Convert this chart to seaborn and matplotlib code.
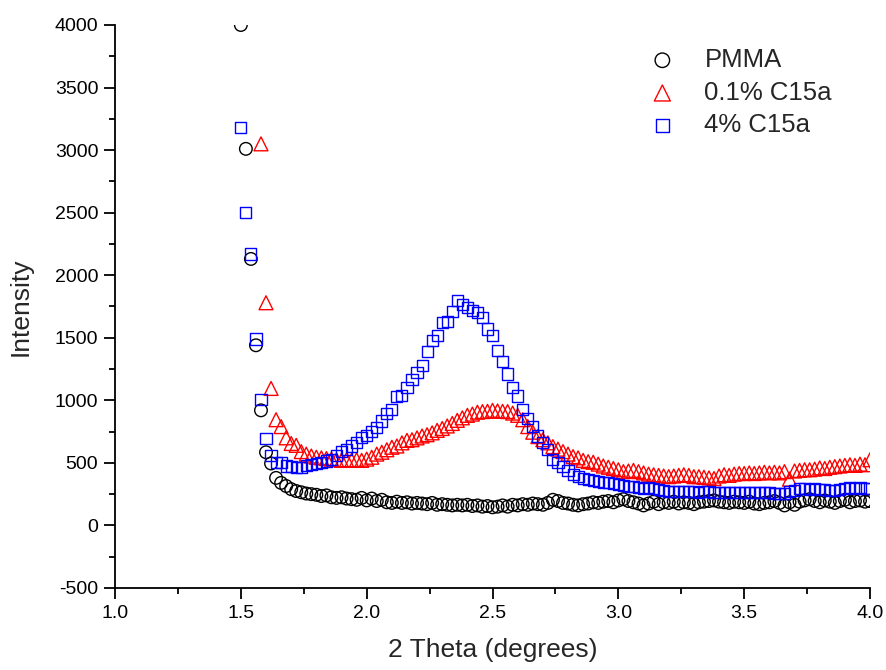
import numpy as np
import pandas as pd
import matplotlib
matplotlib.use("Agg")
import matplotlib.pyplot as plt
import seaborn as sns
from matplotlib.ticker import MultipleLocator

# 2 theta grid (degrees), 0.02 step from 1.50 to 4.00
two_theta = np.round(np.linspace(1.50, 4.00, 126), 2)

pmma = [
    4000, 3010, 2130, 1440, 920, 585, 495, 380, 340, 315,
    290, 275, 265, 255, 250, 245, 235, 240, 225, 220,
    225, 215, 210, 205, 220, 200, 215, 195, 205, 185,
    180, 190, 180, 185, 175, 180, 175, 170, 180, 165,
    170, 165, 160, 165, 160, 165, 155, 160, 150, 155,
    145, 150, 160, 150, 165, 160, 170, 165, 175, 170,
    165, 180, 205, 195, 180, 175, 165, 160, 170, 175,
    185, 180, 190, 195, 185, 200, 210, 195, 185, 175,
    160, 175, 190, 170, 185, 180, 190, 175, 185, 180,
    170, 185, 190, 195, 200, 190, 185, 180, 190, 185,
    180, 190, 175, 170, 180, 185, 195, 180, 160, 185,
    165, 190, 200, 210, 195, 185, 200, 190, 180, 195,
    205, 185, 195, 200, 190, 195,
]

c15a_01 = [
    np.nan, np.nan, np.nan, np.nan, 3050, 1780, 1095, 845, 790, 700,
    655, 640, 590, 570, 555, 545, 540, 535, 530, 525,
    520, 525, 520, 525, 520, 530, 545, 570, 585, 605,
    625, 635, 660, 680, 685, 700, 715, 725, 740, 760,
    775, 795, 815, 840, 860, 880, 890, 905, 910, 912,
    920, 915, 912, 910, 898, 880, 845, 790, 745, 710,
    685, 660, 630, 610, 590, 570, 550, 540, 520, 510,
    505, 490, 475, 465, 455, 445, 430, 435, 440, 430,
    420, 410, 405, 400, 395, 390, 395, 400, 405, 400,
    390, 390, 385, 380, 375, 395, 405, 400, 410, 415,
    415, 420, 415, 420, 425, 420, 425, 420, 430, 370,
    435, 440, 445, 445, 450, 460, 455, 465, 470, 475,
    480, 485, 480, 490, 485, 525,
]

c15a_4 = [
    3180, 2500, 2170, 1490, 1010, 695, 560, 505, 500, 475,
    470, 465, 460, 480, 485, 495, 505, 515, 525, 560,
    590, 605, 635, 660, 700, 720, 750, 780, 835, 895,
    930, 1030, 1040, 1100, 1165, 1220, 1280, 1390, 1480, 1515,
    1620, 1630, 1710, 1800, 1765, 1740, 1720, 1700, 1665, 1570,
    1515, 1395, 1310, 1210, 1100, 1035, 930, 855, 790, 715,
    660, 605, 530, 500, 470, 440, 405, 390, 375, 365,
    360, 350, 345, 340, 332, 325, 320, 310, 310, 300,
    298, 300, 298, 290, 280, 272, 270, 268, 270, 268,
    270, 265, 270, 268, 262, 265, 262, 262, 260, 262,
    265, 262, 262, 265, 262, 262, 258, 256, 256, 270,
    280, 295, 298, 290, 292, 290, 285, 282, 280, 285,
    298, 300, 295, 300, 298, 298,
]

series = [
    ("PMMA", pmma, "o", "black", 82),
    ("0.1% C15a", c15a_01, "^", "red", 100),
    ("4% C15a", c15a_4, "s", "blue", 64),
]

sns.set_style("ticks")
plt.rcParams["font.family"] = ["Liberation Sans", "DejaVu Sans"]
plt.rcParams["axes.unicode_minus"] = False

fig = plt.figure(figsize=(8.86, 6.70), dpi=100)
ax = fig.add_axes([0.1298, 0.1224, 0.8522, 0.8403])

for name, vals, marker, color, size in series:
    df = pd.DataFrame({"x": two_theta, "y": vals}).dropna()
    sns.scatterplot(data=df, x="x", y="y", ax=ax, marker=marker, s=size,
                    facecolor="none", edgecolor=color, linewidth=1.0,
                    label=name, clip_on=True)

ax.set_xlim(1.0, 4.0)
ax.set_ylim(-500, 4000)
ax.xaxis.set_major_locator(MultipleLocator(0.5))
ax.xaxis.set_minor_locator(MultipleLocator(0.25))
ax.yaxis.set_major_locator(MultipleLocator(500))
ax.yaxis.set_minor_locator(MultipleLocator(250))
ax.xaxis.set_major_formatter(matplotlib.ticker.FormatStrFormatter("%.1f"))

for side in ["top", "right"]:
    ax.spines[side].set_visible(False)
for side in ["left", "bottom"]:
    ax.spines[side].set_linewidth(1.3)
    ax.spines[side].set_color("black")
ax.tick_params(which="major", direction="out", length=8, width=1.3,
               labelsize=14, colors="black", pad=4)
ax.tick_params(which="minor", direction="out", length=4.3, width=1.3,
               colors="black")

ax.set_xlabel("2 Theta (degrees)", fontsize=19, labelpad=12)
ax.set_ylabel("Intensity", fontsize=19, labelpad=16)

leg = ax.legend(loc="upper left", bbox_to_anchor=(649.5 / 886, 1 - 48 / 670),
                bbox_transform=fig.transFigure, frameon=False, fontsize=18.5,
                handlelength=1.0, handletextpad=1.14, labelspacing=0.34,
                borderpad=0, borderaxespad=0, markerscale=1.15)

fig.savefig("out.png", dpi=100)
